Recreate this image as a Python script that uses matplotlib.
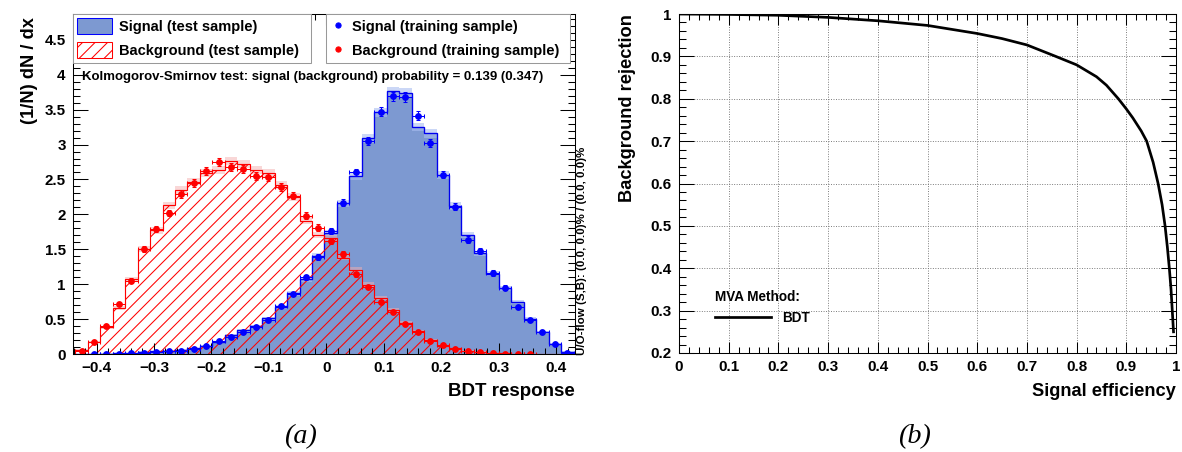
"""TMVA-style BDT response overlay and ROC curve, panels (a) and (b)."""

import matplotlib
matplotlib.use("Agg")
import matplotlib.pyplot as plt
import numpy as np
from matplotlib.lines import Line2D
from matplotlib.patches import Patch
from matplotlib.ticker import FuncFormatter, MultipleLocator

DPI = 75
plt.rcParams["font.family"] = ["Liberation Sans", "DejaVu Sans"]
plt.rcParams["font.weight"] = "bold"
plt.rcParams["hatch.linewidth"] = 1.0
plt.rcParams["hatch.color"] = "#ff0000"

# BDT response, 40 bins
X_MIN, BIN_W = -0.437, 0.02169
ERR_SCALE = 0.0012  # rough stat error: sqrt(value * scale)

sig_test = [0, 0.003, 0.005, 0.01, 0.015, 0.03, 0.04, 0.05, 0.06, 0.08,
            0.12, 0.17, 0.27, 0.34, 0.40, 0.51, 0.68, 0.87, 1.07, 1.41,
            1.73, 2.16, 2.55, 3.09, 3.46, 3.76, 3.74, 3.25, 3.16, 2.56,
            2.12, 1.70, 1.44, 1.15, 0.94, 0.75, 0.50, 0.31, 0.15, 0.03]
sig_train = [np.nan, 0.002, 0.003, 0.005, 0.01, 0.02, 0.03, 0.05, 0.05, 0.07,
             0.12, 0.18, 0.24, 0.31, 0.38, 0.49, 0.69, 0.86, 1.10, 1.39,
             1.76, 2.17, 2.60, 3.05, 3.47, 3.69, 3.68, 3.41, 3.02, 2.57,
             2.11, 1.64, 1.48, 1.16, 0.95, 0.68, 0.49, 0.31, 0.14, 0.02]
bkg_test = [0.06, 0.17, 0.38, 0.66, 1.07, 1.50, 1.77, 2.13, 2.35, 2.47,
            2.59, 2.63, 2.77, 2.72, 2.63, 2.59, 2.42, 2.25, 1.91, 1.70,
            1.66, 1.38, 1.21, 0.99, 0.80, 0.63, 0.45, 0.33, 0.20, 0.12,
            0.08, 0.05, 0.03, 0.015, 0.008, 0.004, 0.002, 0, 0, 0]
bkg_train = [0.04, 0.17, 0.40, 0.72, 1.05, 1.50, 1.79, 2.02, 2.29, 2.45,
             2.62, 2.75, 2.68, 2.65, 2.55, 2.54, 2.39, 2.27, 1.98, 1.81,
             1.62, 1.43, 1.14, 0.96, 0.75, 0.60, 0.43, 0.31, 0.19, 0.13,
             0.07, 0.05, 0.03, 0.01, 0.005, 0.003, 0.002, np.nan, np.nan, np.nan]

# ROC curve
sig_eff = [0, 0.1, 0.2, 0.3, 0.4, 0.5, 0.6, 0.65, 0.7, 0.758, 0.8, 0.84, 0.86, 0.884,
           0.9, 0.913, 0.93, 0.941, 0.954, 0.964, 0.972, 0.978, 0.9826, 0.9866,
           0.99, 0.9925, 0.995]
bkg_rej = [1.0, 0.999, 0.997, 0.992, 0.984, 0.973, 0.954, 0.942, 0.927, 0.9, 0.88, 0.852, 0.832, 0.8,
           0.776, 0.755, 0.724, 0.7, 0.65, 0.6, 0.55, 0.5, 0.45, 0.4,
           0.35, 0.3, 0.25]

SIG_FILL = "#7d99d1"
SIG_LINE = "#0000ee"
RED = "#ff0000"


def _fmt(v, _pos=None):
    v = round(v, 4)
    if abs(v) < 1e-9:
        v = 0.0
    return f"{v:g}".replace("-", "\u2212")


def _frame(ax, xmaj, xmin, ymaj, ymin):
    ax.xaxis.set_major_locator(MultipleLocator(xmaj))
    ax.xaxis.set_minor_locator(MultipleLocator(xmin))
    ax.yaxis.set_major_locator(MultipleLocator(ymaj))
    ax.yaxis.set_minor_locator(MultipleLocator(ymin))
    ax.xaxis.set_major_formatter(FuncFormatter(_fmt))
    ax.yaxis.set_major_formatter(FuncFormatter(_fmt))
    ax.tick_params(which="both", direction="in", top=True, right=True, width=1.0, labelsize=14.5)
    ax.tick_params(axis="x", which="major", length=11, pad=7)
    ax.tick_params(axis="x", which="minor", length=6)
    ax.tick_params(axis="y", which="major", length=14, pad=7)
    ax.tick_params(axis="y", which="minor", length=7)
    for s in ax.spines.values():
        s.set_linewidth(1.0)


fig = plt.figure(figsize=(1182 / DPI, 452 / DPI), dpi=DPI)
W, H = 1182, 452

# ---------------- panel (a)
ax = fig.add_axes([73 / W, 1 - 354 / H, 502 / W, 340 / H])
edges = X_MIN + BIN_W * np.arange(len(sig_test) + 1)
centers = 0.5 * (edges[:-1] + edges[1:])
st, sr = np.array(sig_test), np.array(sig_train)
bt, br = np.array(bkg_test), np.array(bkg_train)

ax.stairs(st, edges, fill=True, facecolor=SIG_FILL, edgecolor="none")
e = np.sqrt(st * ERR_SCALE)
ax.stairs(st + e, edges, baseline=st - e, fill=True, facecolor="#a9bdf0", alpha=0.6, edgecolor="none")
ax.stairs(st, edges, color=SIG_LINE, linewidth=1.3)

e = np.sqrt(bt * ERR_SCALE)
ax.stairs(bt + e, edges, baseline=bt - e, fill=True, facecolor="#f4b0b0", alpha=0.5, edgecolor="none")
ax.stairs(bt, edges, fill=True, facecolor="none", edgecolor=RED, hatch="//", linewidth=0)
ax.stairs(bt, edges, color=RED, linewidth=1.1)

ax.errorbar(centers, sr, xerr=BIN_W / 2, yerr=np.sqrt(np.nan_to_num(sr) * ERR_SCALE),
            fmt="o", color="blue", ms=5.5, elinewidth=1.0, capsize=2)
ax.errorbar(centers, br, xerr=BIN_W / 2, yerr=np.sqrt(np.nan_to_num(br) * ERR_SCALE),
            fmt="o", color=RED, ms=5.5, elinewidth=1.0, capsize=2)

ax.set_xlim(-0.441, 0.433)
ax.set_ylim(0, 4.87)
_frame(ax, 0.1, 0.02, 0.5, 0.1)

leg_kw = dict(loc="upper left", mode="expand", borderaxespad=0, fontsize=14, fancybox=False,
              framealpha=1, edgecolor="0.6", borderpad=0.3, labelspacing=0.55)
h1 = [Patch(facecolor=SIG_FILL, edgecolor="blue", linewidth=1.0),
      Patch(facecolor="white", edgecolor=RED, hatch="//", linewidth=1.0)]
leg1 = ax.legend(h1, ["Signal (test sample)", "Background (test sample)"],
                 bbox_to_anchor=(0, 0.85, 0.474, 0.15), handlelength=2.4, handleheight=1.3,
                 handletextpad=0.45, **leg_kw)
leg1.get_frame().set_linewidth(1.0)
ax.add_artist(leg1)
h2 = [Line2D([], [], marker="o", color="blue", linestyle="none", ms=5),
      Line2D([], [], marker="o", color=RED, linestyle="none", ms=5)]
leg2 = ax.legend(h2, ["Signal (training sample)", "Background (training sample)"],
                 bbox_to_anchor=(0.504, 0.85, 0.486, 0.15), handlelength=1.0, handleheight=1.3,
                 handletextpad=0.45, **leg_kw)
leg2.get_frame().set_linewidth(1.0)

ax.text(0.018, 0.815, "Kolmogorov-Smirnov test: signal (background) probability = 0.139 (0.347)",
        transform=ax.transAxes, fontsize=12.7, ha="left", va="center")
fig.text(582 / W, 1 - 355 / H, "U/O-flow (S,B): (0.0, 0.0)% / (0.0, 0.0)%", rotation=90,
         fontsize=11, ha="center", va="bottom")
fig.text(30 / W, 1 - 17 / H, "(1/N) dN / dx", rotation=90, fontsize=17.5, ha="center", va="top")
fig.text(575 / W, 1 - 392 / H, "BDT response", fontsize=18, ha="right", va="center")

# ---------------- panel (b)
ax2 = fig.add_axes([679 / W, 1 - 353 / H, 497 / W, 339 / H])
ax2.plot(sig_eff, bkg_rej, color="black", linewidth=2.6)
ax2.set_xlim(0, 1)
ax2.set_ylim(0.2, 1)
_frame(ax2, 0.1, 0.02, 0.1, 0.02)
ax2.grid(True, which="major", linestyle=":", color="0.45", linewidth=0.9)
leg3 = ax2.legend([Line2D([], [], color="black", linewidth=2.6)], ["BDT"], title="MVA Method:",
                  loc="upper left", bbox_to_anchor=(0.058, 0.205), frameon=False, borderpad=0,
                  fontsize=13, title_fontproperties={"weight": "bold", "size": 13},
                  handlelength=4.2, handletextpad=0.8, alignment="left")
fig.text(627 / W, 1 - 14 / H, "Background rejection", rotation=90, fontsize=17.5, ha="center", va="top")
fig.text(1176 / W, 1 - 392 / H, "Signal efficiency", fontsize=17.5, ha="right", va="center")

# captions
for x, s in ((300, "(a)"), (914, "(b)")):
    fig.text(x / W, 1 - 437 / H, s, family="Liberation Serif", style="italic", weight="normal",
             fontsize=27, ha="center", va="center")

fig.savefig("out.png", dpi=DPI)
